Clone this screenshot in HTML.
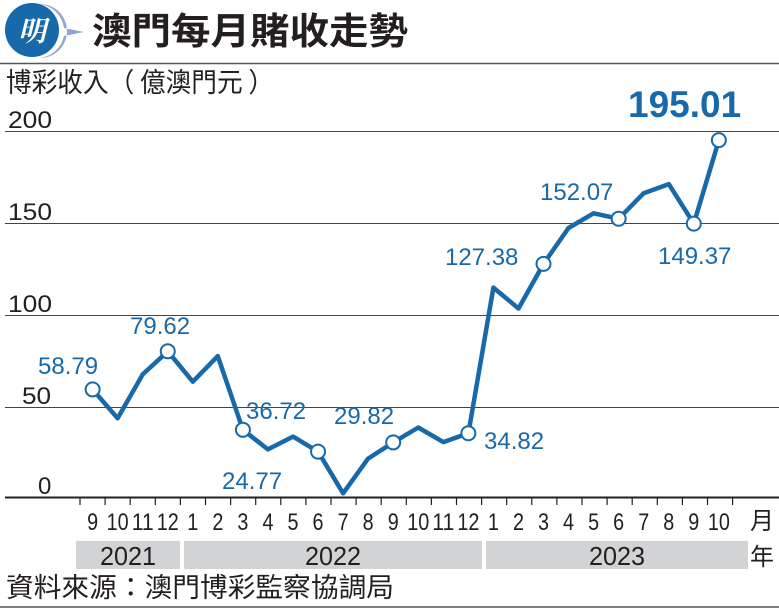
<!DOCTYPE html>
<html><head><meta charset="utf-8"><style>
body{margin:0;background:#fff;width:779px;height:609px;overflow:hidden;font-family:"Liberation Sans","Noto Sans CJK TC",sans-serif}
</style></head><body>
<svg width="779" height="609" xmlns="http://www.w3.org/2000/svg" style="position:absolute;left:0;top:0">
<path d="M40 4 A28 28 0 0 1 64 28 L84 32 L64 36 A28 28 0 0 1 40 58 A26 26 0 0 0 40 4Z" fill="#8fa6d6"/>
<circle cx="32" cy="30" r="27" fill="#1769aa"/>
<text x="32" y="41" font-size="28" font-weight="bold" fill="#fff" text-anchor="middle" font-family="Noto Serif CJK SC,serif" font-style="italic">明</text>
<text x="92" y="44" font-size="37" font-weight="bold" fill="#231f20" font-family="Noto Sans CJK TC,sans-serif" textLength="316" lengthAdjust="spacingAndGlyphs">澳門每月賭收走勢</text>
<line x1="0" y1="63.5" x2="779" y2="63.5" stroke="#555" stroke-width="1.5"/>
<text x="6" y="92" font-size="27" fill="#231f20" font-family="Noto Sans CJK TC,sans-serif" textLength="268" lengthAdjust="spacingAndGlyphs">博彩收入（ 億澳門元 ）</text>
<g stroke="#444" stroke-width="1">
<line x1="5" y1="131.5" x2="779" y2="131.5"/>
<line x1="5" y1="223.5" x2="779" y2="223.5"/>
<line x1="5" y1="315.5" x2="779" y2="315.5"/>
<line x1="5" y1="407.5" x2="779" y2="407.5"/>
</g>
<line x1="5" y1="497.5" x2="779" y2="497.5" stroke="#231f20" stroke-width="2"/>
<g font-size="24" fill="#231f20">
<text x="8" y="128" textLength="44" lengthAdjust="spacingAndGlyphs">200</text><text x="8" y="220" textLength="44" lengthAdjust="spacingAndGlyphs">150</text><text x="8" y="312" textLength="44" lengthAdjust="spacingAndGlyphs">100</text><text x="22" y="404" textLength="29" lengthAdjust="spacingAndGlyphs">50</text><text x="38" y="494">0</text>
</g>
<g id="ticks" stroke="#231f20" stroke-width="1.2"></g>
<g id="mon" font-size="24" fill="#231f20" text-anchor="middle"></g>
<text x="762" y="529" font-size="24" fill="#231f20" text-anchor="middle" font-family="Noto Sans CJK TC,sans-serif">月</text>
<rect x="76" y="541" width="104" height="28" fill="#d1d3d4"/>
<rect x="184" y="541" width="298" height="28" fill="#d1d3d4"/>
<rect x="486" y="541" width="262" height="28" fill="#d1d3d4"/>
<g font-size="26" fill="#231f20" text-anchor="middle">
<text x="128" y="565" textLength="56" lengthAdjust="spacingAndGlyphs">2021</text><text x="333" y="565" textLength="56" lengthAdjust="spacingAndGlyphs">2022</text><text x="617" y="565" textLength="56" lengthAdjust="spacingAndGlyphs">2023</text>
</g>
<text x="762" y="565" font-size="24" fill="#231f20" text-anchor="middle" font-family="Noto Sans CJK TC,sans-serif">年</text>
<text x="6" y="597" font-size="27" fill="#231f20" font-family="Noto Sans CJK TC,sans-serif" textLength="388" lengthAdjust="spacingAndGlyphs">資料來源：澳門博彩監察協調局</text>
<line x1="0" y1="607" x2="779" y2="607" stroke="#555" stroke-width="1.5"/>
<polyline id="ln" fill="none" stroke="#1769aa" stroke-width="4.5" stroke-linejoin="round"/>
<g id="dots" fill="#fff" stroke="#1769aa" stroke-width="2"></g>
<g font-size="24" fill="#1769aa">
<text x="38" y="374">58.79</text>
<text x="130" y="334">79.62</text>
<text x="246" y="419">36.72</text>
<text x="222" y="489">24.77</text>
<text x="334" y="424">29.82</text>
<text x="484" y="449">34.82</text>
<text x="445" y="265">127.38</text>
<text x="540" y="200">152.07</text>
<text x="658" y="264">149.37</text>
</g>
<text x="628" y="117" font-size="37" font-weight="bold" fill="#1769aa">195.01</text>
</svg>
<script>
var v=[58.79,43,67,79.62,63,77,36.72,26,33,24.77,2,21,29.82,38,30,34.82,114.4,103,127.38,147,155,152.07,166,171,149.37,195.01];
var lab=[9,10,11,12,1,2,3,4,5,6,7,8,9,10,11,12,1,2,3,4,5,6,7,8,9,10];
var X=i=>92.6+25.05*i, Y=d=>497-d*1.83;
var pts=v.map((d,i)=>X(i).toFixed(1)+","+Y(d).toFixed(1)).join(" ");
document.getElementById("ln").setAttribute("points",pts);
var ns="http://www.w3.org/2000/svg",t=document.getElementById("ticks"),m=document.getElementById("mon"),dd=document.getElementById("dots");
for(var i=0;i<=26;i++){var l=document.createElementNS(ns,"line");var x=80+25.1*i;l.setAttribute("x1",x);l.setAttribute("x2",x);l.setAttribute("y1",498);l.setAttribute("y2",505);t.appendChild(l);}
lab.forEach((s,i)=>{var e=document.createElementNS(ns,"text");e.setAttribute("x",X(i));e.setAttribute("y",530);e.setAttribute("textLength",s>=10?"22":"11");e.setAttribute("lengthAdjust","spacingAndGlyphs");e.textContent=s;m.appendChild(e);});
[0,3,6,9,12,15,18,21,24,25].forEach(i=>{var c=document.createElementNS(ns,"circle");c.setAttribute("cx",X(i));c.setAttribute("cy",Y(v[i]));c.setAttribute("r",7);dd.appendChild(c);});
</script>
</body></html>
